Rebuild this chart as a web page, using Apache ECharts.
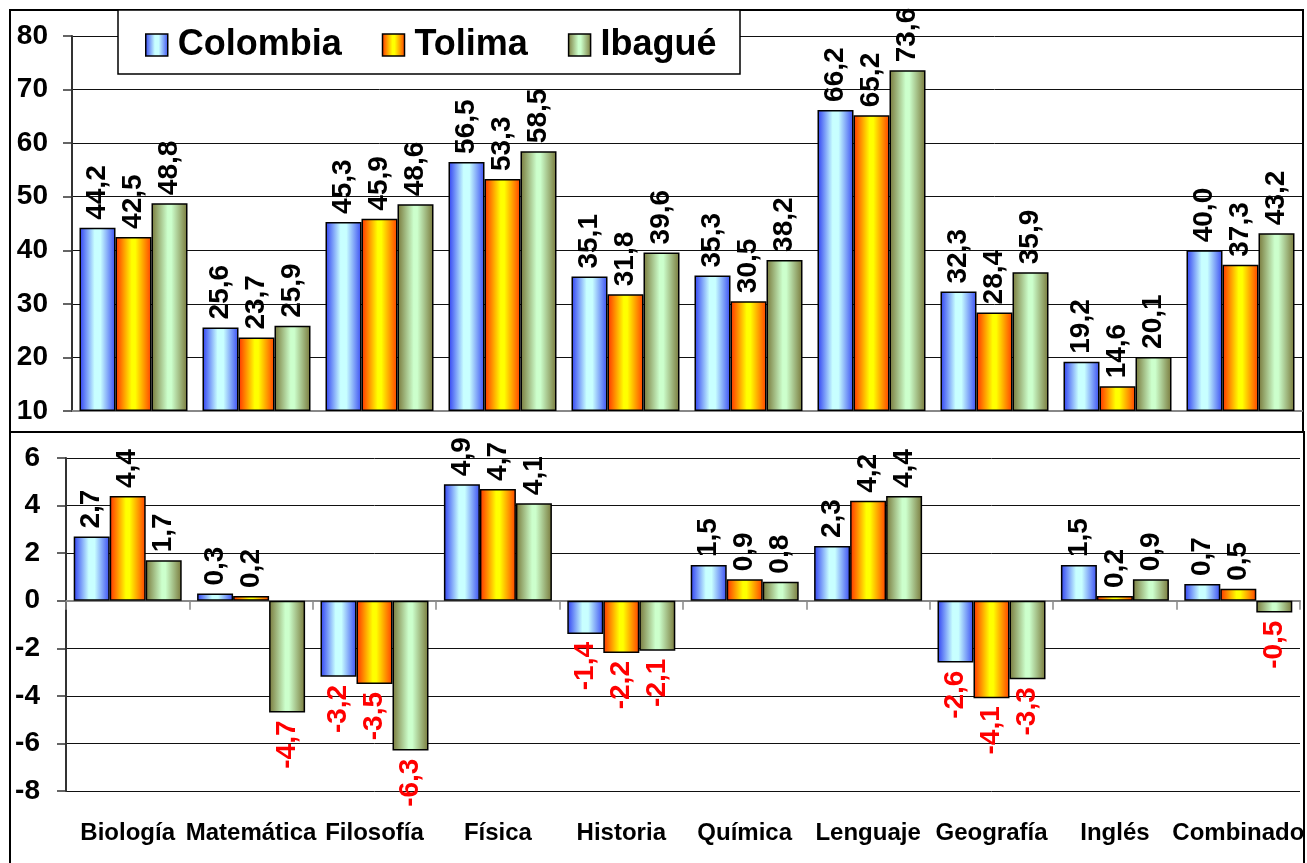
<!DOCTYPE html>
<html>
<head>
<meta charset="utf-8">
<script src="https://cdn.jsdelivr.net/npm/echarts@6/dist/echarts.min.js"></script>
<style>
  html, body { margin: 0; padding: 0; background: #fff; }
  #chart { width: 1307px; height: 863px; }
</style>
</head>
<body>
<div id="chart"></div>
<script>
// Subject areas
const categories = ['Biología', 'Matemática', 'Filosofía', 'Física', 'Historia',
  'Química', 'Lenguaje', 'Geografía', 'Inglés', 'Combinado'];

// Average scores (upper panel)
const colombiaScore = [44.2, 25.6, 45.3, 56.5, 35.1, 35.3, 66.2, 32.3, 19.2, 40.0];
const tolimaScore   = [42.5, 23.7, 45.9, 53.3, 31.8, 30.5, 65.2, 28.4, 14.6, 37.3];
const ibagueScore   = [48.8, 25.9, 48.6, 58.5, 39.6, 38.2, 73.6, 35.9, 20.1, 43.2];

// Change in score (lower panel)
const colombiaChange = [2.7, 0.3, -3.2, 4.9, -1.4, 1.5, 2.3, -2.6, 1.5, 0.7];
const tolimaChange   = [4.4, 0.2, -3.5, 4.7, -2.2, 0.9, 4.2, -4.1, 0.2, 0.5];
const ibagueChange   = [1.7, -4.7, -6.3, 4.1, -2.1, 0.8, 4.4, -3.3, 0.9, -0.5];

const seriesNames = ['Colombia', 'Tolima', 'Ibagué'];

const FONT = 'Arial, "Liberation Sans", sans-serif';

function hGrad(stops) {
  return new echarts.graphic.LinearGradient(0, 0, 1, 0,
    stops.map(s => ({ offset: s[0], color: s[1] })));
}
const fills = [
  hGrad([[0, '#2f3ff2'], [0.42, '#c8ffff'], [0.58, '#c8ffff'], [1, '#3a4cf2']]),
  hGrad([[0, '#ff3000'], [0.45, '#ffff00'], [0.55, '#ffff00'], [1, '#ff4000']]),
  hGrad([[0, '#78783a'], [0.45, '#ccffcc'], [0.55, '#ccffcc'], [1, '#78783a']])
];

const fmt = v => v.toFixed(1).replace('.', ',');

function labelled(values) {
  return values.map(v => ({
    value: v,
    label: v >= 0
      ? { position: 'top', align: 'left', color: '#000' }
      : { position: 'bottom', align: 'right', color: '#ff0000' }
  }));
}

function barSeries(name, values, idx, axisIdx) {
  return {
    name: name,
    type: 'bar',
    xAxisIndex: axisIdx === 0 ? 0 : 1,
    yAxisIndex: axisIdx,
    barWidth: 36,
    barGap: '0%',
    data: labelled(values),
    itemStyle: { color: fills[idx], borderColor: '#000', borderWidth: 1.5 },
    label: {
      show: true,
      rotate: 90,
      distance: 8,
      verticalAlign: 'middle',
      fontFamily: FONT,
      fontWeight: 'bold',
      fontSize: 28,
      formatter: p => fmt(p.value)
    },
    emphasis: { disabled: true },
    animation: false
  };
}

const chart = echarts.init(document.getElementById('chart'), null, { renderer: 'canvas' });

const yLabel = { fontFamily: FONT, fontWeight: 'bold', fontSize: 28, color: '#000' };

chart.setOption({
  backgroundColor: '#fff',
  animation: false,
  grid: [
    { left: 72, right: 5, top: 36, bottom: 452, containLabel: false },
    { left: 66, right: 1, top: 458, bottom: 72, containLabel: false }
  ],
  legend: {
    data: seriesNames.map(n => ({ name: n, icon: 'rect' })),
    left: 140,
    top: 22,
    z: 20,
    itemWidth: 22,
    itemHeight: 22,
    itemGap: 40,
    itemStyle: { borderColor: '#000', borderWidth: 1.5 },
    textStyle: {
      fontFamily: FONT, fontWeight: 'bold', fontSize: 36, color: '#000',
      padding: [0, 0, 0, 5]
    },
    selectedMode: false
  },
  xAxis: [
    {
      gridIndex: 0, type: 'category', data: categories,
      axisLine: { lineStyle: { color: '#888', width: 2 } },
      axisTick: { show: false }, axisLabel: { show: false }
    },
    {
      gridIndex: 1, type: 'category', data: categories,
      axisLine: { onZero: true, lineStyle: { color: '#888', width: 2 } },
      axisTick: { show: true, length: 9, lineStyle: { color: '#888', width: 1.5 } },
      axisLabel: { show: false }
    },
    {
      gridIndex: 1, type: 'category', data: categories, position: 'bottom',
      axisLine: { show: false, onZero: false }, axisTick: { show: false },
      axisLabel: {
        show: true, margin: 30, interval: 0,
        fontFamily: FONT, fontWeight: 'bold', fontSize: 24, color: '#000'
      }
    }
  ],
  yAxis: [
    {
      gridIndex: 0, type: 'value', min: 10, max: 80, interval: 10, startValue: 10,
      axisLine: { show: true, lineStyle: { color: '#333', width: 2 } },
      axisTick: { show: true, length: 9, lineStyle: { color: '#333', width: 1.5 } },
      axisLabel: Object.assign({ margin: 24 }, yLabel),
      splitLine: { lineStyle: { color: '#111', width: 1 } }
    },
    {
      gridIndex: 1, type: 'value', min: -8, max: 6, interval: 2,
      axisLine: { show: true, onZero: false, lineStyle: { color: '#333', width: 2 } },
      axisTick: { show: true, length: 9, lineStyle: { color: '#333', width: 1.5 } },
      axisLabel: Object.assign({ margin: 26 }, yLabel),
      splitLine: { lineStyle: { color: '#111', width: 1 } }
    }
  ],
  series: [
    barSeries('Colombia', colombiaScore, 0, 0),
    barSeries('Tolima', tolimaScore, 1, 0),
    barSeries('Ibagué', ibagueScore, 2, 0),
    barSeries('Colombia', colombiaChange, 0, 1),
    barSeries('Tolima', tolimaChange, 1, 1),
    barSeries('Ibagué', ibagueChange, 2, 1)
  ],
  graphic: [
    // panel frames
    { type: 'rect', shape: { x: 10, y: 10, width: 1293, height: 422 },
      style: { fill: null, stroke: '#000', lineWidth: 2 }, z: -1 },
    { type: 'rect', shape: { x: 10, y: 432, width: 1294, height: 440 },
      style: { fill: null, stroke: '#000', lineWidth: 2 }, z: -1 },
    // legend box
    { type: 'rect', shape: { x: 118, y: 10, width: 622, height: 64 },
      style: { fill: '#fff', stroke: '#000', lineWidth: 1.5 }, z: 5 }
  ]
});
</script>
</body>
</html>
